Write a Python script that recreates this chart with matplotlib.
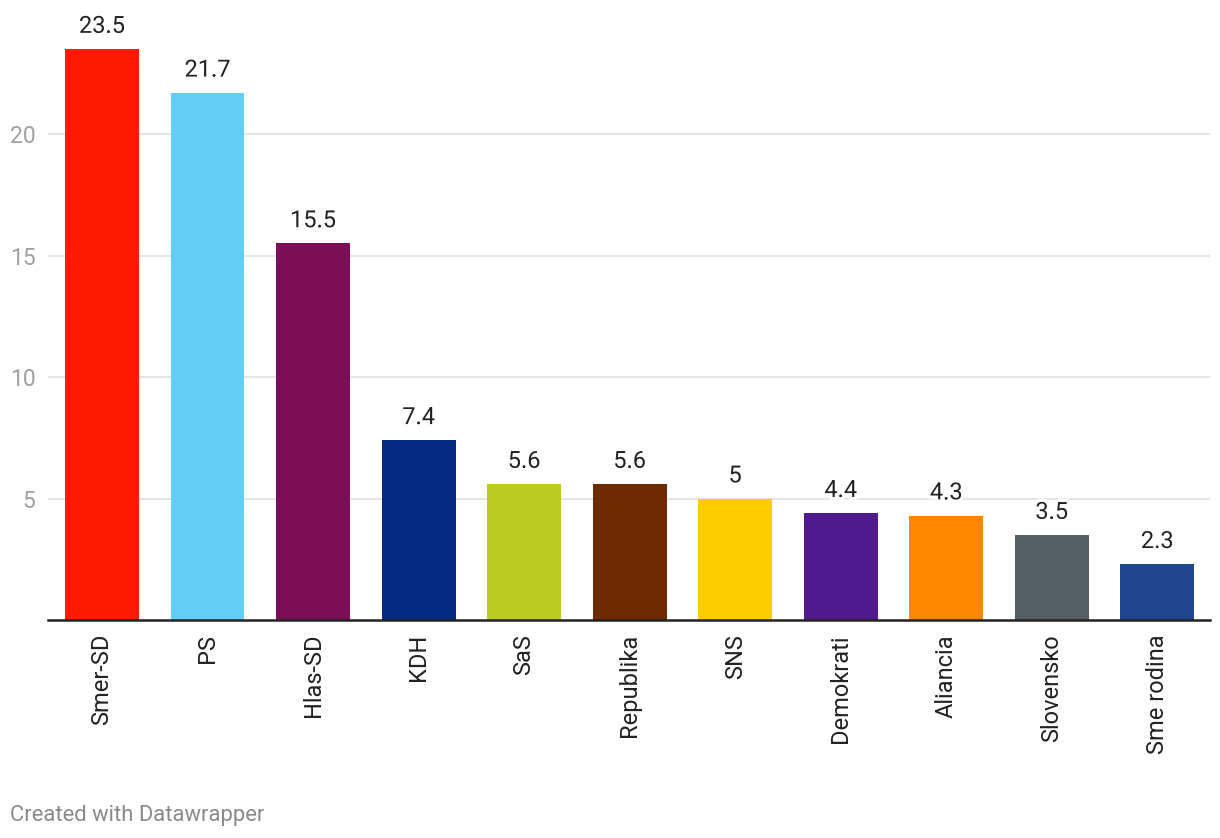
import matplotlib.pyplot as plt
import matplotlib.patheffects as pe

parties = ['Smer-SD', 'PS', 'Hlas-SD', 'KDH', 'SaS', 'Republika', 'SNS',
           'Demokrati', 'Aliancia', 'Slovensko', 'Sme rodina']
values = [23.5, 21.7, 15.5, 7.4, 5.6, 5.6, 5, 4.4, 4.3, 3.5, 2.3]
labels = ['23.5', '21.7', '15.5', '7.4', '5.6', '5.6', '5', '4.4', '4.3', '3.5', '2.3']
colors = ['#ff1a00', '#62cef6', '#7a0f55', '#052a82', '#bbcb22', '#6e2a00',
          '#ffcc00', '#4f1a8c', '#ff8800', '#565f62', '#20468f']
yticks = [5, 10, 15, 20]

plt.rcParams['font.family'] = ['Roboto', 'DejaVu Sans']

W, H = 1220, 838
fig = plt.figure(figsize=(W / 100, H / 100), dpi=100)
ymax = 25
px_per_unit = (620 - 134) / 20
ax = fig.add_axes([48 / W, (H - 620) / H, 1162 / W, ymax * px_per_unit / H])

x = range(len(parties))
ax.bar(x, values, width=0.70, color=colors, zorder=2)
ax.set_xlim(-0.512, 10.5)
ax.set_ylim(0, ymax)

# value labels with white halo over gridlines
for i, (v, t) in enumerate(zip(values, labels)):
    ax.annotate(t, (i, v), xytext=(0, 8), textcoords='offset points',
                ha='center', va='bottom', fontsize=17, color='#222222', zorder=3,
                path_effects=[pe.withStroke(linewidth=5, foreground='white')])

ax.set_yticks(yticks)
ax.set_yticklabels([str(t) for t in yticks], fontsize=16.5, color='#a0a0a0')
ax.tick_params(axis='y', length=0, pad=9)
ax.grid(axis='y', color='#e3e3e3', linewidth=1.3, zorder=0)
ax.set_axisbelow(True)

ax.set_xticks(list(x))
ax.set_xticklabels(parties, rotation=90, fontsize=17, color='#222222')
ax.tick_params(axis='x', length=0, pad=10)

for s in ['top', 'right', 'left']:
    ax.spines[s].set_visible(False)
ax.spines['bottom'].set_color('#222222')
ax.spines['bottom'].set_linewidth(1.8)
ax.spines['bottom'].set_zorder(4)

fig.text(10 / W, 1 - 815 / H, 'Created with Datawrapper', fontsize=15.8,
         color='#8a8a8a', va='center', ha='left')

fig.savefig('out.png', dpi=100)
